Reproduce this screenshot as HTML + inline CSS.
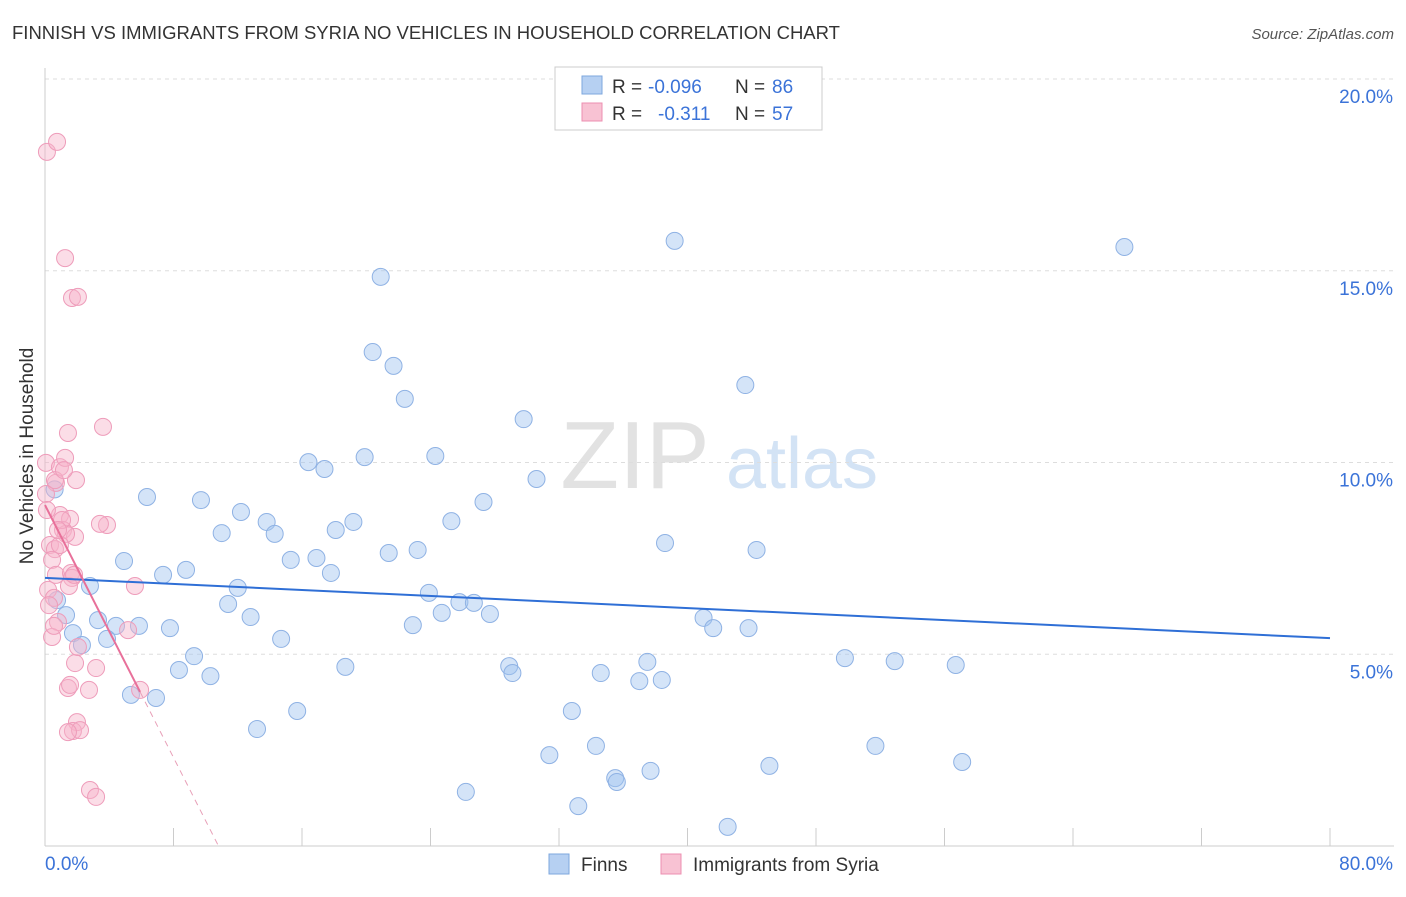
<!DOCTYPE html>
<html><head><meta charset="utf-8"><style>
body{margin:0;background:#fff;font-family:"Liberation Sans",sans-serif;}
svg text{font-family:"Liberation Sans",sans-serif;}
</style></head><body>
<svg id="c" width="1406" height="892" xmlns="http://www.w3.org/2000/svg">
<text x="12" y="39" font-size="18" fill="#333" textLength="828" lengthAdjust="spacingAndGlyphs">FINNISH VS IMMIGRANTS FROM SYRIA NO VEHICLES IN HOUSEHOLD CORRELATION CHART</text>
<text x="1394" y="39" font-size="15" fill="#555" font-style="italic" text-anchor="end">Source: ZipAtlas.com</text>
<text transform="translate(33,456) rotate(-90)" font-size="19" fill="#333" text-anchor="middle">No Vehicles in Household</text>
<g>
<text x="635" y="488" font-family="Liberation Serif" font-size="96" fill="#e2e2e2" text-anchor="middle">ZIP</text>
<text x="802" y="488" font-size="72" fill="#d3e3f5" text-anchor="middle">atlas</text>
</g>
<g id="grid"></g>
<g id="axes"></g>
<g id="pts"></g>
<g id="trend"></g>
<g>
<rect x="555" y="67" width="267" height="63" fill="#fff" stroke="#ccc"/>
<rect x="582" y="76" width="20" height="18" fill="#b6d0f2" stroke="#7ea7de"/>
<rect x="582" y="103" width="20" height="18" fill="#f8c2d3" stroke="#ec8fb0"/>
<text x="612" y="93" font-size="19" fill="#333">R =</text>
<text x="648" y="93" font-size="19" fill="#3b73d8">-0.096</text>
<text x="735" y="93" font-size="19" fill="#333">N =</text>
<text x="772" y="93" font-size="19" fill="#3b73d8">86</text>
<text x="612" y="120" font-size="19" fill="#333">R =</text>
<text x="658" y="120" font-size="19" fill="#3b73d8">-0.311</text>
<text x="735" y="120" font-size="19" fill="#333">N =</text>
<text x="772" y="120" font-size="19" fill="#3b73d8">57</text>
</g>
<g>
<rect x="549" y="854" width="20" height="20" fill="#b6d0f2" stroke="#7ea7de"/>
<text x="581" y="871" font-size="19" fill="#333">Finns</text>
<rect x="661" y="854" width="20" height="20" fill="#f8c2d3" stroke="#ec8fb0"/>
<text x="693" y="871" font-size="19" fill="#333">Immigrants from Syria</text>
</g>
</svg>
<script>
const finnsX=[39.2,67.2,20.9,20.4,21.7,22.4,43.6,29.8,16.4,17.4,19.9,24.3,30.6,6.35,9.71,12.2,27.3,13.8,19.2,25.3,11.0,14.3,18.1,38.6,44.3,21.4,23.2,4.92,15.3,16.9,7.35,8.78,17.8,12.0,2.80,23.9,0.75,11.4,25.8,26.7,1.31,3.30,12.8,24.7,27.7,41.0,4.42,5.85,7.78,22.9,41.6,43.8,1.74,3.86,14.7,2.30,9.28,8.34,10.3,18.7,28.9,29.1,34.6,37.5,37.0,38.4,49.8,52.9,56.7,5.35,6.91,15.7,32.8,13.2,34.3,31.4,51.7,45.1,57.1,35.5,35.6,37.7,26.2,33.2,42.5,0.6];
const finnsY=[15.78,15.62,14.84,12.88,12.52,11.66,12.02,11.13,10.01,9.83,10.14,10.17,9.57,9.10,9.02,8.71,8.97,8.45,8.45,8.47,8.16,8.14,8.24,7.90,7.72,7.64,7.72,7.43,7.46,7.51,7.07,7.20,7.12,6.73,6.78,6.60,6.41,6.31,6.36,6.34,6.02,5.89,5.97,6.08,6.05,5.95,5.74,5.74,5.68,5.76,5.68,5.68,5.55,5.40,5.40,5.24,4.95,4.59,4.43,4.67,4.69,4.51,4.51,4.80,4.30,4.33,4.90,4.82,4.72,3.94,3.86,3.52,3.52,3.05,2.61,2.37,2.61,2.09,2.19,1.77,1.67,1.96,1.41,1.04,0.50,9.3];
const syriaX=[0.12,0.75,1.25,1.68,2.05,1.43,3.61,0.06,0.93,1.25,1.93,0.68,0.06,3.86,0.93,1.56,1.12,1.87,0.31,0.62,1.31,0.44,0.68,1.62,1.68,1.49,0.19,0.56,0.25,0.81,5.60,0.44,5.17,1.87,3.18,2.05,1.43,1.56,2.74,5.92,1.99,1.74,2.18,1.43,2.80,3.18,0.62,1.06,0.12,0.56,3.42,0.93,1.81,0.81,1.18];
const syriaY=[18.10,18.36,15.33,14.29,14.32,10.77,10.93,9.99,9.88,10.12,9.54,9.47,9.18,8.37,8.63,8.53,8.24,8.06,7.85,7.74,8.14,7.46,7.07,7.12,6.99,6.78,6.68,6.47,6.28,5.84,6.78,5.45,5.63,4.77,4.64,5.19,4.12,4.20,4.07,4.07,3.23,3.00,3.02,2.97,1.46,1.28,9.54,8.50,8.76,5.74,8.40,7.85,7.07,8.24,9.80];
const finnsTrend=[6.99,5.42];      // y at x=0 and x=80
const syriaTrend=[8.89,-0.823];    // intercept, slope
const yTicks=[5,10,15,20];
const xTickLabels=["0.0%","80.0%"];

const X0=45,X1=1330,Y0=846,Y20=79;
const sx=v=>X0+v*(X1-X0)/80;
const sy=v=>Y0-v*(Y0-Y20)/20;
const NS="http://www.w3.org/2000/svg";
function mk(tag,attrs,parent,txt){const e=document.createElementNS(NS,tag);for(const k in attrs)e.setAttribute(k,attrs[k]);if(txt!==undefined)e.textContent=txt;parent.appendChild(e);return e;}
const grid=document.getElementById('grid'),axes=document.getElementById('axes'),pts=document.getElementById('pts'),trend=document.getElementById('trend');
yTicks.forEach(t=>{
  const l=mk('line',{x1:X0,x2:1394,y1:sy(t),y2:sy(t),stroke:'#ddd','stroke-dasharray':'4,4'},grid);
  
  
  const tx=mk('text',{x:1393,y:sy(t)+24,'font-size':19,fill:'#3b73d8','text-anchor':'end'},axes,t.toFixed(1)+'%');
  
  
});
const ya=mk('line',{x1:X0,x2:X0,y1:68,y2:Y0,stroke:'#ccc'},axes);


const xa=mk('line',{x1:X0,x2:1394,y1:Y0,y2:Y0,stroke:'#ccc'},axes);


for(let i=0;i<=10;i++){
  const tk=mk('line',{x1:sx(i*8),x2:sx(i*8),y1:Y0,y2:828,stroke:'#ccc'},axes);
  
  
}
const xl0=mk('text',{x:45,y:870,'font-size':19,fill:'#3b73d8'},axes,xTickLabels[0]);


const xl1=mk('text',{x:1393,y:870,'font-size':19,fill:'#3b73d8','text-anchor':'end'},axes,xTickLabels[1]);


finnsX.forEach((x,i)=>{
  const c=mk('circle',{cx:sx(x),cy:sy(finnsY[i]),r:8.5,fill:'rgba(160,195,240,0.45)',stroke:'#8fb2e4','stroke-width':1},pts);
  
  
});
syriaX.forEach((x,i)=>{
  const c=mk('circle',{cx:sx(x),cy:sy(syriaY[i]),r:8.5,fill:'rgba(246,180,202,0.45)',stroke:'#ee9cba','stroke-width':1},pts);
  
  
});
const fl=mk('line',{x1:sx(0),y1:sy(finnsTrend[0]),x2:sx(80),y2:sy(finnsTrend[1]),stroke:'#2f6fd6','stroke-width':2},trend);


const mx=Math.max(...syriaX);
const sl=mk('line',{x1:sx(0),y1:sy(syriaTrend[0]),x2:sx(mx),y2:sy(syriaTrend[0]+syriaTrend[1]*mx),stroke:'#e8709a','stroke-width':2},trend);


const xz=-syriaTrend[0]/syriaTrend[1];
const sd=mk('line',{x1:sx(mx),y1:sy(syriaTrend[0]+syriaTrend[1]*mx),x2:sx(xz),y2:sy(0),stroke:'#e8a0b8','stroke-width':1,'stroke-dasharray':'6,5'},trend);


</script>
</body></html>
